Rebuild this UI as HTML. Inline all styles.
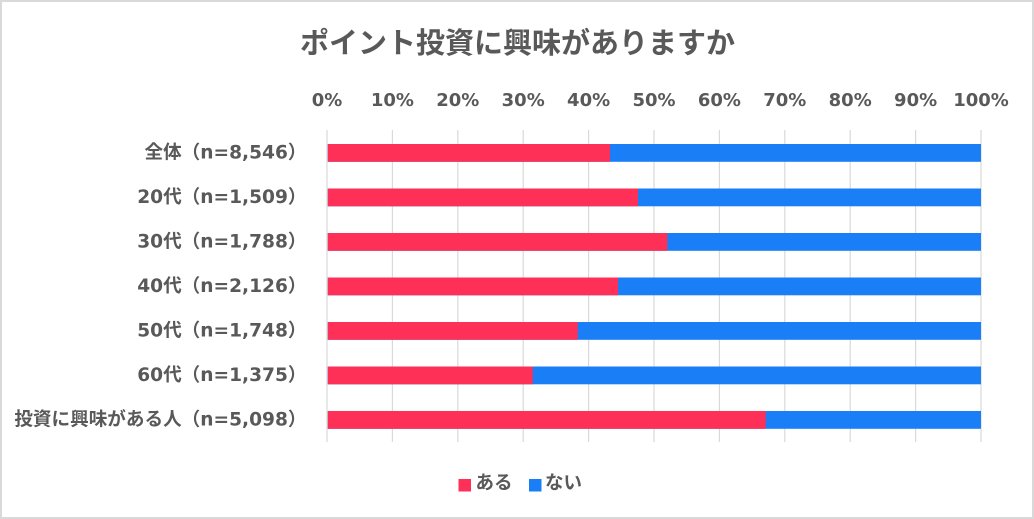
<!DOCTYPE html>
<html><head><meta charset="utf-8">
<style>
html,body{margin:0;padding:0;background:#fff;}
svg{display:block;}
text{font-family:"DejaVu Sans","Noto Sans CJK JP",sans-serif;font-weight:bold;fill:#595959;}
</style></head>
<body>
<svg width="1034" height="519" viewBox="0 0 1034 519" xmlns="http://www.w3.org/2000/svg">
<rect x="0" y="0" width="1034" height="519" fill="#fff"/>
<rect x="1" y="1" width="1032" height="517" fill="none" stroke="#d9d9d9" stroke-width="2"/>
<text x="517.5" y="53" font-size="29" text-anchor="middle" style="font-family:'Noto Sans CJK JP',sans-serif">ポイント投資に興味がありますか</text>
<g font-size="18" text-anchor="middle">
<text x="327" y="106">0%</text>
<text x="392.4" y="106">10%</text>
<text x="457.8" y="106">20%</text>
<text x="523.2" y="106">30%</text>
<text x="588.6" y="106">40%</text>
<text x="654" y="106">50%</text>
<text x="719.4" y="106">60%</text>
<text x="784.8" y="106">70%</text>
<text x="850.2" y="106">80%</text>
<text x="915.6" y="106">90%</text>
<text x="981" y="106">100%</text>
</g>
<g stroke="#d9d9d9" stroke-width="1.2">
<line x1="327" y1="130" x2="327" y2="442"/>
<line x1="392.4" y1="130" x2="392.4" y2="442"/>
<line x1="457.8" y1="130" x2="457.8" y2="442"/>
<line x1="523.2" y1="130" x2="523.2" y2="442"/>
<line x1="588.6" y1="130" x2="588.6" y2="442"/>
<line x1="654" y1="130" x2="654" y2="442"/>
<line x1="719.4" y1="130" x2="719.4" y2="442"/>
<line x1="784.8" y1="130" x2="784.8" y2="442"/>
<line x1="850.2" y1="130" x2="850.2" y2="442"/>
<line x1="915.6" y1="130" x2="915.6" y2="442"/>
<line x1="981" y1="130" x2="981" y2="442"/>
</g>
<g>
<rect x="327.8" y="144" width="653.2" height="17.8" fill="#1A7EF6"/>
<rect x="327.8" y="144" width="282.2" height="17.8" fill="#FE3058"/>
<rect x="327.8" y="188.5" width="653.2" height="17.8" fill="#1A7EF6"/>
<rect x="327.8" y="188.5" width="310.2" height="17.8" fill="#FE3058"/>
<rect x="327.8" y="233" width="653.2" height="17.8" fill="#1A7EF6"/>
<rect x="327.8" y="233" width="339.5" height="17.8" fill="#FE3058"/>
<rect x="327.8" y="277.5" width="653.2" height="17.8" fill="#1A7EF6"/>
<rect x="327.8" y="277.5" width="290.2" height="17.8" fill="#FE3058"/>
<rect x="327.8" y="322" width="653.2" height="17.8" fill="#1A7EF6"/>
<rect x="327.8" y="322" width="249.9" height="17.8" fill="#FE3058"/>
<rect x="327.8" y="366.5" width="653.2" height="17.8" fill="#1A7EF6"/>
<rect x="327.8" y="366.5" width="204.9" height="17.8" fill="#FE3058"/>
<rect x="327.8" y="411" width="653.2" height="17.8" fill="#1A7EF6"/>
<rect x="327.8" y="411" width="437.9" height="17.8" fill="#FE3058"/>
</g>
<g font-size="18.6" text-anchor="end">
<text x="306.5" y="158.5">全体（n=8,546）</text>
<text x="306.5" y="203">20代（n=1,509）</text>
<text x="306.5" y="247.5">30代（n=1,788）</text>
<text x="306.5" y="292">40代（n=2,126）</text>
<text x="306.5" y="336.5">50代（n=1,748）</text>
<text x="306.5" y="381">60代（n=1,375）</text>
<text x="306.5" y="425.5">投資に興味がある人（n=5,098）</text>
</g>
<rect x="458.5" y="479" width="12.5" height="12.5" fill="#FE3058"/>
<text x="475.5" y="489" font-size="18.5" style="font-family:'Noto Sans CJK JP',sans-serif">ある</text>
<rect x="529" y="479" width="12.5" height="12.5" fill="#1A7EF6"/>
<text x="545" y="489" font-size="18.5" style="font-family:'Noto Sans CJK JP',sans-serif">ない</text>
</svg>
</body></html>
